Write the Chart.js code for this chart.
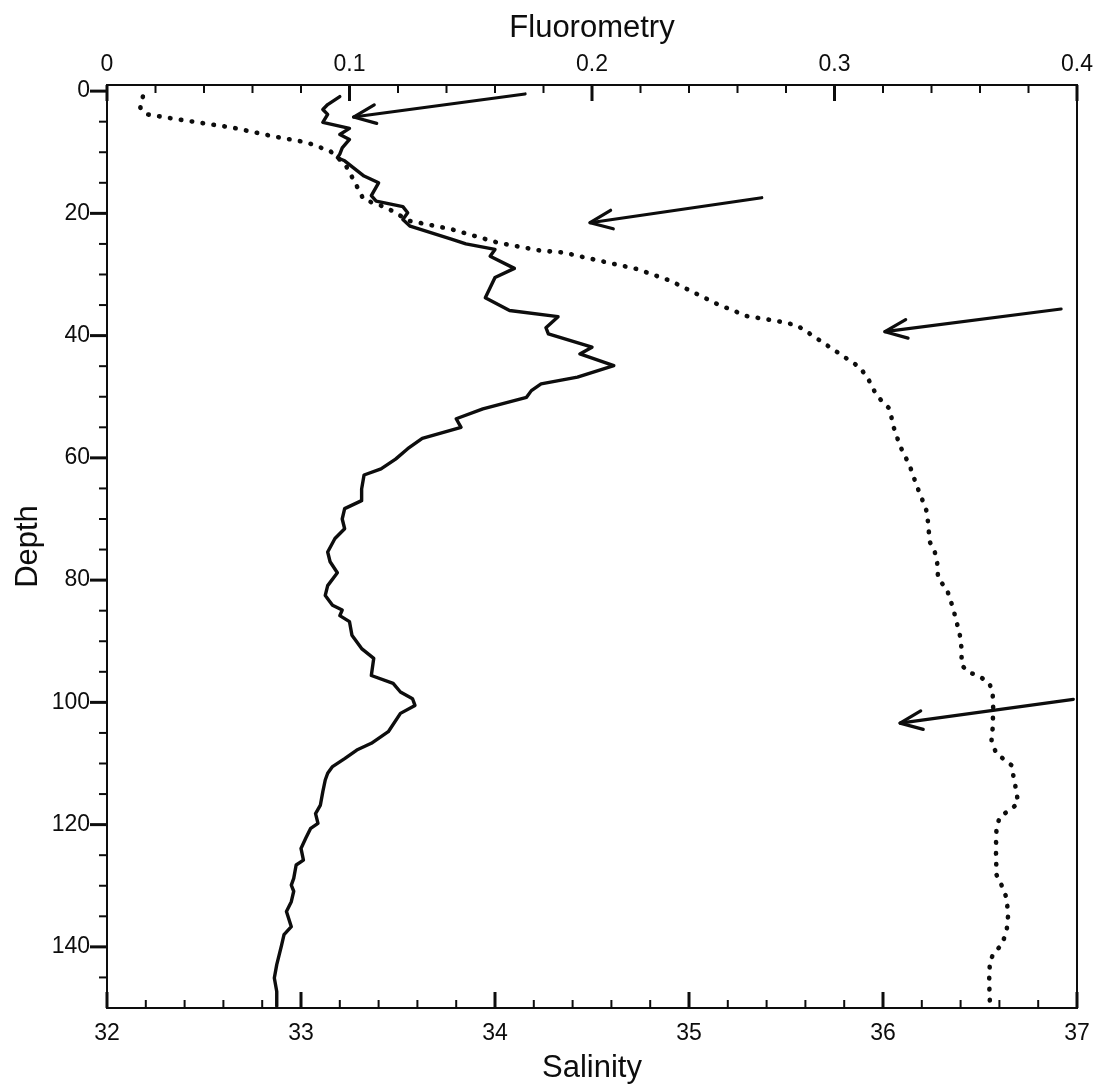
<!DOCTYPE html>
<html>
<head>
<meta charset="utf-8">
<title>Fluorometry and salinity profile</title>
<script src="https://cdn.jsdelivr.net/npm/chart.js@4/dist/chart.umd.min.js"></script>
<style>
  html, body { margin: 0; padding: 0; background: #ffffff; }
  canvas { display: block; }
</style>
</head>
<body>
<canvas id="profile" width="1104" height="1089"></canvas>
<script>
// Fluorometry cast (top axis): depth in m, reading
const fluorDepth = [0.9, 2.2, 3.0, 3.8, 5.1, 6.1, 7.1, 7.9, 9.3, 10.3, 10.9, 11.4, 13.9, 15.0, 17.1, 18.0, 18.9, 19.9, 21.0, 22.1,
  24.2, 25.0, 25.9, 27.0, 29.0, 30.5, 33.8, 35.9, 36.9, 38.7, 39.7, 41.9, 43.0, 44.9, 46.8, 47.9, 49.0, 50.1, 52.0, 53.6,
  55.0, 56.8, 58.5, 60.2, 61.8, 62.8, 65.1, 67.0, 68.3, 70.0, 71.6, 73.2, 75.4, 77.0, 78.8, 80.9, 82.5, 84.1, 84.9, 85.8,
  86.8, 89.0, 91.2, 92.8, 95.6, 96.9, 98.3, 99.4, 100.5, 101.8, 104.8, 106.7, 107.8, 109.2, 110.5, 111.6, 112.7, 114.6, 116.8, 118.2,
  119.8, 120.6, 122.2, 123.9, 125.8, 126.6, 128.8, 129.9, 130.9, 132.6, 134.2, 136.7, 138.0, 139.7, 141.3, 142.9, 145.1, 147.3, 149.7];
const fluorValue = [0.096, 0.091, 0.089, 0.091, 0.089, 0.100, 0.096, 0.100, 0.097, 0.096, 0.095, 0.098, 0.106, 0.112, 0.109, 0.111, 0.122, 0.124, 0.122, 0.125,
  0.142, 0.148, 0.160, 0.158, 0.168, 0.160, 0.156, 0.166, 0.186, 0.181, 0.182, 0.200, 0.195, 0.209, 0.194, 0.179, 0.175, 0.173, 0.155, 0.144,
  0.146, 0.130, 0.124, 0.119, 0.113, 0.106, 0.105, 0.105, 0.098, 0.097, 0.098, 0.094, 0.091, 0.092, 0.095, 0.091, 0.090, 0.093, 0.097, 0.096,
  0.100, 0.101, 0.105, 0.110, 0.109, 0.118, 0.121, 0.126, 0.127, 0.121, 0.116, 0.109, 0.103, 0.098, 0.093, 0.091, 0.090, 0.089, 0.088, 0.086,
  0.087, 0.084, 0.082, 0.080, 0.081, 0.078, 0.077, 0.076, 0.077, 0.076, 0.074, 0.076, 0.073, 0.072, 0.071, 0.070, 0.069, 0.070, 0.070];

// Salinity cast (bottom axis): depth in m, salinity
const salDepth = [0.9, 2.7, 3.8, 4.6, 6.0, 7.4, 8.4, 9.8, 12.0, 15.0, 17.7, 19.1, 21.2, 22.6, 24.8, 26.1, 26.4, 27.9, 29.1, 31.0,
  32.9, 34.8, 36.8, 37.6, 38.3, 39.7, 43.0, 45.2, 47.1, 49.8, 52.0, 54.7, 58.0, 61.3, 64.5, 67.2, 69.0, 71.1, 73.8, 75.4,
  77.0, 79.8, 81.4, 83.0, 84.7, 86.8, 89.0, 91.2, 93.9, 95.0, 95.8, 96.8, 98.3, 101.0, 104.3, 106.4, 108.4, 109.2, 110.3, 112.4,
  114.6, 116.5, 117.6, 118.7, 120.6, 123.9, 128.2, 129.9, 132.0, 134.8, 137.5, 139.7, 141.0, 142.4, 145.6, 149.2];
const salValue = [32.185, 32.172, 32.206, 32.361, 32.652, 32.858, 33.030, 33.150, 33.228, 33.279, 33.322, 33.443, 33.555, 33.776, 34.015, 34.236, 34.35, 34.56, 34.731, 34.902,
  35.022, 35.143, 35.297, 35.452, 35.555, 35.623, 35.778, 35.881, 35.924, 35.967, 36.035, 36.052, 36.087, 36.138, 36.173, 36.207, 36.228, 36.233, 36.242, 36.267,
  36.279, 36.284, 36.328, 36.345, 36.362, 36.379, 36.396, 36.405, 36.405, 36.439, 36.499, 36.547, 36.565, 36.568, 36.565, 36.559, 36.585, 36.619, 36.663, 36.674,
  36.688, 36.696, 36.654, 36.602, 36.585, 36.582, 36.585, 36.611, 36.637, 36.645, 36.637, 36.611, 36.571, 36.551, 36.547, 36.551];

// Axis tick values and labels
const salTicks = [32, 33, 34, 35, 36, 37];
const salTickLabels = ['32', '33', '34', '35', '36', '37'];
const fluorTicks = [0, 0.1, 0.2, 0.3, 0.4];
const fluorTickLabels = ['0', '0.1', '0.2', '0.3', '0.4'];
const depthTicks = [0, 20, 40, 60, 80, 100, 120, 140];
const depthTickLabels = ['0', '20', '40', '60', '80', '100', '120', '140'];

// Annotation arrows, given in salinity / depth units (tail -> head)
const arrowFromSal = [34.155, 35.375, 36.918, 36.981];
const arrowFromDepth = [0.47, 17.44, 35.65, 99.5];
const arrowToSal = [33.271, 34.490, 36.010, 36.088];
const arrowToDepth = [4.24, 21.53, 39.36, 103.4];

const ink = '#0d0d0d';
const family = "'Liberation Sans', Arial, Helvetica, sans-serif";

// Frame, inward/outward tick marks and the arrows
const frameAndMarks = {
  id: 'frameAndMarks',
  afterDatasetsDraw(chart) {
    const { ctx, chartArea: a, scales } = chart;
    const sx = scales.x, fx = scales.x2, dy = scales.y;
    const seg = (x1, y1, x2, y2, w) => {
      ctx.lineWidth = w;
      ctx.beginPath();
      ctx.moveTo(x1, y1);
      ctx.lineTo(x2, y2);
      ctx.stroke();
    };
    ctx.save();
    ctx.strokeStyle = ink;
    ctx.lineCap = 'butt';
    ctx.lineWidth = 2;
    ctx.strokeRect(a.left, a.top, a.right - a.left, a.bottom - a.top);

    // salinity: majors every 1, minors every 0.2, pointing up into the plot
    for (let i = 0; i <= 25; i++) {
      const major = i % 5 === 0;
      const px = sx.getPixelForValue(32 + i * 0.2);
      seg(px, a.bottom, px, a.bottom - (major ? 16 : 8), major ? 3 : 2);
    }
    // fluorometry: majors every 0.1, minors every 0.02, pointing down
    for (let i = 0; i <= 20; i++) {
      const major = i % 5 === 0;
      const px = fx.getPixelForValue(i * 0.02);
      seg(px, a.top, px, a.top + (major ? 16 : 8), major ? 3 : 2);
    }
    // depth: majors every 20 m, minors every 5 m, pointing outward
    for (let d = 0; d <= 145; d += 5) {
      const major = d % 20 === 0;
      const py = dy.getPixelForValue(d);
      seg(a.left, py, a.left - (major ? 17 : 8), py, major ? 3 : 2);
    }

    // arrows with open heads
    ctx.lineCap = 'round';
    ctx.lineJoin = 'round';
    ctx.lineWidth = 3.2;
    for (let i = 0; i < arrowFromSal.length; i++) {
      const x1 = sx.getPixelForValue(arrowFromSal[i]);
      const y1 = dy.getPixelForValue(arrowFromDepth[i]);
      const x2 = sx.getPixelForValue(arrowToSal[i]);
      const y2 = dy.getPixelForValue(arrowToDepth[i]);
      ctx.beginPath();
      ctx.moveTo(x1, y1);
      ctx.lineTo(x2, y2);
      ctx.stroke();
      const ang = Math.atan2(y1 - y2, x1 - x2);
      const len = 24, spread = 0.4;
      ctx.beginPath();
      ctx.moveTo(x2 + len * Math.cos(ang - spread), y2 + len * Math.sin(ang - spread));
      ctx.lineTo(x2, y2);
      ctx.lineTo(x2 + len * Math.cos(ang + spread), y2 + len * Math.sin(ang + spread));
      ctx.stroke();
    }
    ctx.restore();
  }
};

const tickFont = { family, size: 23 };
const titleFont = { family, size: 31 };

new Chart(document.getElementById('profile'), {
  type: 'scatter',
  data: {
    datasets: [
      {
        label: 'Fluorometry',
        data: fluorDepth.map((d, i) => ({ x: fluorValue[i], y: d })),
        xAxisID: 'x2',
        yAxisID: 'y',
        showLine: true,
        borderColor: ink,
        backgroundColor: ink,
        borderWidth: 3.4,
        borderJoinStyle: 'round',
        borderCapStyle: 'round',
        pointRadius: 0,
        tension: 0,
        fill: false
      },
      {
        label: 'Salinity',
        data: salDepth.map((d, i) => ({ x: salValue[i], y: d })),
        xAxisID: 'x',
        yAxisID: 'y',
        showLine: true,
        borderColor: ink,
        backgroundColor: ink,
        borderWidth: 4.6,
        borderDash: [0.5, 10.5],
        borderCapStyle: 'round',
        borderJoinStyle: 'round',
        pointRadius: 0,
        tension: 0,
        fill: false
      }
    ]
  },
  options: {
    responsive: false,
    animation: false,
    devicePixelRatio: 1,
    layout: { padding: { left: 0, right: 27, top: 0, bottom: 0 } },
    plugins: { legend: { display: false }, tooltip: { enabled: false } },
    scales: {
      x: {
        type: 'linear',
        position: 'bottom',
        min: 32,
        max: 37,
        grid: { display: false, drawTicks: false },
        border: { display: false },
        afterBuildTicks: s => { s.ticks = salTicks.map(v => ({ value: v })); },
        afterFit: s => { s.height = 81; },
        ticks: {
          autoSkip: false, maxRotation: 0, padding: 12, color: ink, font: tickFont,
          callback: (v, i) => salTickLabels[i]
        },
        title: { display: true, text: 'Salinity', color: ink, font: titleFont, padding: { top: 0, bottom: 2 } }
      },
      x2: {
        type: 'linear',
        position: 'top',
        min: 0,
        max: 0.4,
        grid: { display: false, drawTicks: false },
        border: { display: false },
        afterBuildTicks: s => { s.ticks = fluorTicks.map(v => ({ value: v })); },
        afterFit: s => { s.height = 85; },
        ticks: {
          autoSkip: false, maxRotation: 0, padding: 7, color: ink, font: tickFont,
          callback: (v, i) => fluorTickLabels[i]
        },
        title: { display: true, text: 'Fluorometry', color: ink, font: titleFont, padding: { top: 10, bottom: 0 } }
      },
      y: {
        type: 'linear',
        position: 'left',
        reverse: true,
        min: -1,
        max: 150,
        grid: { display: false, drawTicks: false },
        border: { display: false },
        afterBuildTicks: s => { s.ticks = depthTicks.map(v => ({ value: v })); },
        afterFit: s => { s.width = 107; },
        ticks: {
          autoSkip: false, padding: 17, color: ink, font: tickFont,
          callback: (v, i) => depthTickLabels[i]
        },
        title: { display: true, text: 'Depth', color: ink, font: titleFont, padding: { top: 10, bottom: 0 } }
      }
    }
  },
  plugins: [frameAndMarks]
});
</script>
</body>
</html>
